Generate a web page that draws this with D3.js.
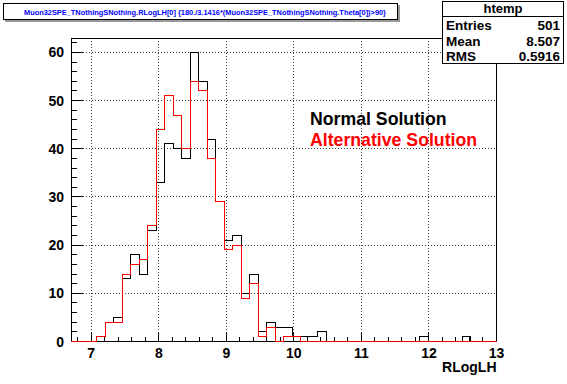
<!DOCTYPE html>
<html><head><meta charset="utf-8">
<script src="https://cdn.jsdelivr.net/npm/d3@7"></script>
<style>body{margin:0;background:#fff}svg{display:block}text{font-family:"Liberation Sans",Arial,sans-serif;font-weight:bold}</style>
</head><body><svg id="c" width="567" height="384"></svg>
<script>
const xMin = 6.7, xMax = 13, nBins = 50;
const normalCounts = [0,0,0,1,4,5,13,18,14,23,33,41,40,38,60,54,42,29,21,22,10,14,2,4,3,3,1,1,1,2,0,0,0,0,0,0,0,0,0,0,0,1,0,0,0,0,1,0,0,0];
const altCounts    = [0,0,0,1,4,4,14,16,17,24,44,51,47,40,54,52,38,29,19,20,9,12,1,3,0,1,1,0,0,0,0,0,0,0,0,0,0,0,0,0,0,0,0,0,0,0,0,0,0,0];
const xTicks = [7,8,9,10,11,12,13];
const yTicks = [0,10,20,30,40,50,60];
const titleText = "Muon32SPE_TNothingSNothing.RLogLH[0] {180./3.1416*(Muon32SPE_TNothingSNothing.Theta[0])>90}";
const statsName = "htemp";
const statsRows = [["Entries","501"],["Mean","8.507"],["RMS","0.5916"]];
const legendItems = [["Normal Solution","#000000"],["Alternative Solution","#ff0000"]];
const xLabel = "RLogLH";

const svg = d3.select("#c");
const L = 71, R = 496.5, T = 38, B = 341.5;
const x = d3.scaleLinear().domain([xMin, xMax]).range([L, R]);
const y = d3.scaleLinear().domain([0, 63]).range([B, T]);
const bw = (xMax - xMin) / nBins;

// grid
const g = svg.append("g");
g.selectAll(".gx").data(xTicks.filter(d => d < xMax)).enter().append("line")
  .attr("x1", d => x(d)).attr("x2", d => x(d)).attr("y1", T).attr("y2", B)
  .attr("stroke", "#000").attr("stroke-dasharray", "1,2").attr("stroke-width", 1).attr("shape-rendering","crispEdges").attr("opacity",0.75);
g.selectAll(".gy").data(yTicks.filter(d => d > 0)).enter().append("line")
  .attr("x1", L).attr("x2", R).attr("y1", d => y(d)).attr("y2", d => y(d))
  .attr("stroke", "#000").attr("stroke-dasharray", "1,2").attr("stroke-width", 1).attr("shape-rendering","crispEdges").attr("opacity",0.75);

// frame
svg.append("rect").attr("x", L).attr("y", T).attr("width", R - L).attr("height", B - T)
  .attr("fill", "none").attr("stroke", "#000").attr("stroke-width", 1).attr("shape-rendering","crispEdges");

// axes ticks (inside)
const xMinor = d3.range(Math.ceil(xMin / 0.2) * 0.2, xMax + 1e-9, 0.2);
svg.selectAll(".xt").data(xMinor).enter().append("line")
  .attr("x1", d => x(d)).attr("x2", d => x(d)).attr("y1", B)
  .attr("y2", d => Math.abs(d - Math.round(d)) < 1e-6 ? B - 9 : B - 4.5)
  .attr("stroke", "#000").attr("shape-rendering","crispEdges");
const yMinor = d3.range(0, 63.001, 2);
svg.selectAll(".yt").data(yMinor).enter().append("line")
  .attr("y1", d => y(d)).attr("y2", d => y(d)).attr("x1", L)
  .attr("x2", d => d % 10 === 0 ? L + 12 : L + 6)
  .attr("stroke", "#000").attr("shape-rendering","crispEdges");

svg.selectAll(".xl").data(xTicks).enter().append("text")
  .attr("x", d => x(d)).attr("y", 358).attr("text-anchor", "middle")
  .attr("font-size", 14).text(d => d);
svg.selectAll(".yl").data(yTicks).enter().append("text")
  .attr("x", 64).attr("y", d => y(d) + 5).attr("text-anchor", "end")
  .attr("font-size", 14).text(d => d);
svg.append("text").attr("x", R).attr("y", 372).attr("text-anchor", "end")
  .attr("font-size", 14).text(xLabel);

// histograms
function histPath(counts) {
  const pts = counts.map((c, i) => [xMin + i * bw, c]);
  pts.push([xMax, counts[counts.length - 1]]);
  return d3.line().x(d => x(d[0])).y(d => y(d[1])).curve(d3.curveStepAfter)(pts);
}
svg.append("path").attr("d", histPath(normalCounts)).attr("fill", "none").attr("stroke", "#000").attr("stroke-width", 1).attr("shape-rendering","crispEdges");
svg.append("path").attr("d", histPath(altCounts)).attr("fill", "none").attr("stroke", "#ff0000").attr("stroke-width", 1).attr("shape-rendering","crispEdges");

// legend text
legendItems.forEach((d, i) => {
  svg.append("text").attr("x", 310).attr("y", 125 + i * 21).attr("font-size", 17.7)
    .attr("fill", d[1]).text(d[0]);
});

// title box
svg.append("rect").attr("x", 5).attr("y", 5).attr("width", 395).attr("height", 17).attr("fill", "#999");
svg.append("rect").attr("x", 3.5).attr("y", 3.5).attr("width", 394).attr("height", 16)
  .attr("fill", "#fff").attr("stroke", "#000").attr("stroke-width", 1);
svg.append("text").attr("x", 205).attr("y", 14.5).attr("text-anchor", "middle")
  .attr("font-size", 7.4).attr("fill", "#0000ff").text(titleText);

// stats box
const sx = 442.5, sy = 1.5, sw = 121, sh = 62;
svg.append("rect").attr("x", sx).attr("y", sy).attr("width", sw).attr("height", sh)
  .attr("fill", "#fff").attr("stroke", "#000").attr("stroke-width", 1);
svg.append("line").attr("x1", sx).attr("x2", sx + sw).attr("y1", 16.5).attr("y2", 16.5).attr("stroke", "#000");
svg.append("text").attr("x", sx + sw / 2).attr("y", 13).attr("text-anchor", "middle").attr("font-size", 13).text(statsName);
statsRows.forEach((r, i) => {
  svg.append("text").attr("x", 446).attr("y", 30 + i * 15.5).attr("font-size", 13.5).text(r[0]);
  svg.append("text").attr("x", 560).attr("y", 30 + i * 15.5).attr("text-anchor", "end").attr("font-size", 13.5).text(r[1]);
});
</script></body></html>
